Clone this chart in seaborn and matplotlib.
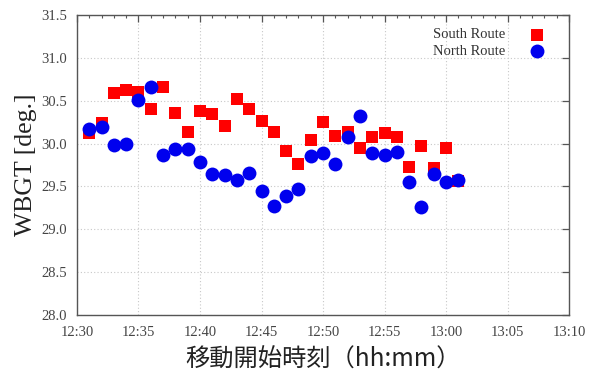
import matplotlib
matplotlib.use("Agg")
import matplotlib.pyplot as plt
import matplotlib.dates as mdates
import pandas as pd
import seaborn as sns

# Start times of each walk (one per minute) and the measured WBGT per route
times = ["12:31", "12:32", "12:33", "12:34", "12:35", "12:36", "12:37", "12:38",
         "12:39", "12:40", "12:41", "12:42", "12:43", "12:44", "12:45", "12:46",
         "12:47", "12:48", "12:49", "12:50", "12:51", "12:52", "12:53", "12:54",
         "12:55", "12:56", "12:57", "12:58", "12:59", "13:00", "13:01"]
south = [30.12, 30.24, 30.59, 30.62, 30.60, 30.40, 30.66, 30.36, 30.13, 30.38,
         30.35, 30.20, 30.52, 30.40, 30.26, 30.13, 29.91, 29.76, 30.04, 30.25,
         30.09, 30.14, 29.95, 30.08, 30.12, 30.08, 29.73, 29.97, 29.71, 29.95,
         29.56]
north = [30.17, 30.19, 29.98, 29.99, 30.51, 30.66, 29.87, 29.94, 29.94, 29.78,
         29.64, 29.63, 29.58, 29.66, 29.45, 29.27, 29.39, 29.47, 29.85, 29.89,
         29.76, 30.08, 30.32, 29.89, 29.87, 29.90, 29.55, 29.26, 29.64, 29.55,
         29.57]
routes = ["South Route", "North Route"]
x_range = ["12:30", "13:10"]
y_ticks = [28.0, 28.5, 29.0, 29.5, 30.0, 30.5, 31.0, 31.5]
x_label = "移動開始時刻（hh:mm）"
y_label = "WBGT [deg.]"

day = "2000-01-01 "
t = pd.to_datetime([day + s for s in times])
df_south = pd.DataFrame({"time": t, "wbgt": south})
df_north = pd.DataFrame({"time": t, "wbgt": north})

sns.set_style("white")
plt.rcParams["font.family"] = ["Liberation Serif", "DejaVu Serif"]

fig = plt.figure(figsize=(5.94, 3.74), dpi=100)
ax = fig.add_axes([77 / 594, 1 - 315 / 374, 492 / 594, 300 / 374])

sns.scatterplot(data=df_south, x="time", y="wbgt", ax=ax, marker="s", s=85,
                color="#ff0000", linewidth=0, label=routes[0], zorder=3)
sns.scatterplot(data=df_north, x="time", y="wbgt", ax=ax, marker="o", s=100,
                color="#0000ee", linewidth=0, label=routes[1], zorder=4)

ax.set_xlim(pd.to_datetime(day + x_range[0]), pd.to_datetime(day + x_range[1]))
ax.set_ylim(y_ticks[0], y_ticks[-1])
ax.set_yticks(y_ticks)
ax.set_yticklabels([f"{v:.1f}" for v in y_ticks])
ax.xaxis.set_major_locator(mdates.MinuteLocator(byminute=range(0, 60, 5)))
ax.xaxis.set_minor_locator(mdates.MinuteLocator())
ax.xaxis.set_major_formatter(mdates.DateFormatter("%H:%M"))

ax.grid(True, which="major", linestyle=(0, (1, 2)), color="#c8c8c8", linewidth=0.8)
ax.set_axisbelow(True)

for side in ax.spines.values():
    side.set_color("#555555")
    side.set_linewidth(1.0)

ax.tick_params(which="both", direction="in", top=True, right=True,
               color="#555555", labelcolor="#444444", labelsize=10.5)
ax.tick_params(which="major", length=5, width=0.9)
ax.tick_params(axis="x", which="major", pad=8)
ax.tick_params(axis="y", which="major", pad=7)
ax.tick_params(which="minor", length=2.5, width=0.8)

ax.set_xlabel(x_label, family=["Noto Sans CJK JP", "DejaVu Sans"], fontsize=17.5,
              color="#222222")
ax.xaxis.set_label_coords(0.5, -0.105)
ax.set_ylabel(y_label, fontsize=18.5, color="#222222")
ax.yaxis.set_label_coords(-0.082, 0.5)

leg = ax.legend(loc="upper right", markerfirst=False, frameon=False,
                fontsize=10.5, handletextpad=1.2, labelspacing=0.25,
                borderaxespad=0.5, bbox_to_anchor=(0.992, 1.0))
for txt in leg.get_texts():
    txt.set_color("#333333")

fig.savefig("out.png", dpi=100, facecolor="white")
